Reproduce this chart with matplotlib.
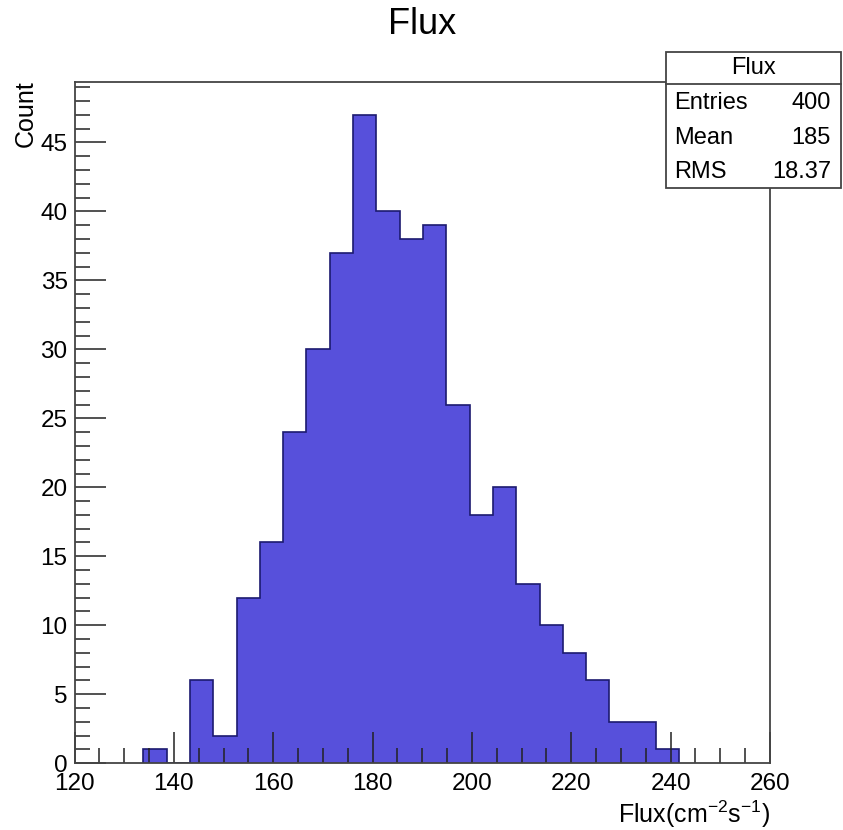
import numpy as np
import matplotlib
matplotlib.use('Agg')
import matplotlib.pyplot as plt
from matplotlib.patches import Rectangle
from matplotlib.lines import Line2D
from matplotlib.ticker import MultipleLocator

plt.rcParams['font.family'] = ['Liberation Sans', 'DejaVu Sans']
plt.rcParams['mathtext.fontset'] = 'custom'
plt.rcParams['mathtext.rm'] = 'Liberation Sans'
plt.rcParams['mathtext.it'] = 'Liberation Sans'

# histogram data
counts = [1, 0, 6, 2, 12, 16, 24, 30, 37, 47, 40, 38, 39, 26, 18, 20, 13, 10, 8, 6, 3, 3, 1]
x_lo = 133.86
x_hi = 241.75
stat_names = ['Entries', 'Mean', 'RMS']
stat_values = ['400', '185', '18.37']

edges = np.linspace(x_lo, x_hi, len(counts) + 1)

fig = plt.figure(figsize=(8.43, 8.30), dpi=100)
ax = fig.add_axes([0.0884, 0.0804, 0.8250, 0.8204])

ax.stairs(counts, edges, fill=True, color='#5750db', zorder=1)
ax.stairs(counts, edges, baseline=0, fill=False, color='#1c1a70', lw=1.2, zorder=1.5)

ax.set_xlim(120, 260)
ax.set_ylim(0, max(counts) * 1.05)

ax.xaxis.set_major_locator(MultipleLocator(20))
ax.xaxis.set_minor_locator(MultipleLocator(5))
ax.yaxis.set_major_locator(MultipleLocator(5))
ax.yaxis.set_minor_locator(MultipleLocator(1))
ax.tick_params(which='both', direction='in', top=False, right=False, color='#222222', width=1.1)
ax.tick_params(which='major', length=22, labelsize=17.5)
ax.tick_params(axis='x', which='major', pad=7)
ax.tick_params(axis='y', which='major', pad=5)
ax.tick_params(which='minor', length=11)
for s in ax.spines.values():
    s.set_color('#444444')
    s.set_linewidth(1.3)

fig.text(0.501, 0.970, 'Flux', ha='center', va='center', fontsize=26)
fig.text(0.031, 0.903, 'Count', rotation=90, ha='center', va='top', fontsize=18)
fig.text(0.9134, 0.019, 'Flux(cm$^{\\mathrm{-2}}$s$^{\\mathrm{-1}}$)', ha='right', va='center', fontsize=18)

# stats box
W, H = 843.0, 830.0
bx0, bx1, by0, by1, byh = 665.7, 841.0, 51.7, 188.3, 84.0
fig.patches.append(Rectangle((bx0 / W, 1 - by1 / H), (bx1 - bx0) / W, (by1 - by0) / H,
                             transform=fig.transFigure, facecolor='white',
                             edgecolor='#444444', lw=1.3, zorder=5))
fig.lines.append(Line2D([bx0 / W, bx1 / W], [1 - byh / H, 1 - byh / H],
                        transform=fig.transFigure, color='#444444', lw=1.3, zorder=6))
fig.text((bx0 + bx1) / 2 / W, 1 - 68 / H, 'Flux', ha='center', va='center', fontsize=17, zorder=7)
for i, (nm, val) in enumerate(zip(stat_names, stat_values)):
    yy = 1 - (103 + 34.5 * i) / H
    fig.text(674 / W, yy, nm, ha='left', va='center', fontsize=17, zorder=7)
    fig.text(831 / W, yy, val, ha='right', va='center', fontsize=17, zorder=7)

fig.savefig('out.png', dpi=100)
